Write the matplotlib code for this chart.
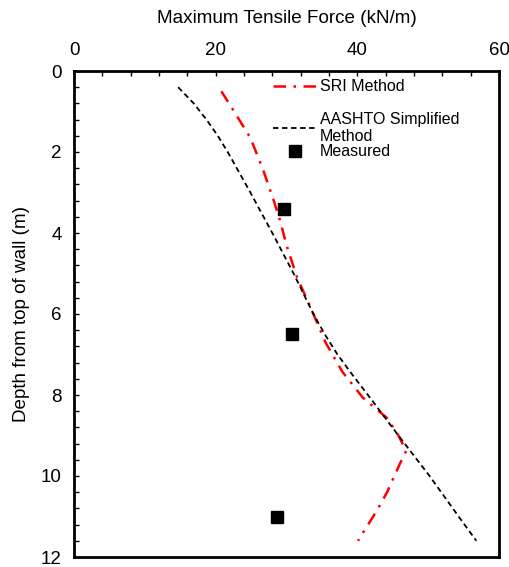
import matplotlib
matplotlib.use("Agg")
import matplotlib.pyplot as plt
from matplotlib.ticker import MultipleLocator

plt.rcParams['font.family'] = ['Liberation Sans', 'DejaVu Sans']

# AASHTO Simplified Method (depth m, force kN/m)
aashto_depth = [0.4, 0.8, 1.2, 1.6, 2.0, 2.5, 3.0, 4.0, 5.0, 6.0, 6.5, 7.0, 7.5, 8.0, 9.0, 10.0, 11.0, 11.6]
aashto_force = [14.7, 16.9, 18.7, 20.3, 21.7, 23.3, 24.9, 28.0, 31.0, 33.8, 35.4, 37.2, 39.3, 41.5, 45.8, 50.2, 54.3, 56.8]

# SRI Method
sri_depth = [0.5, 1.0, 1.65, 2.44, 3.2, 3.7, 4.3, 5.1, 5.8, 6.7, 7.43, 8.07, 8.57, 9.0, 9.38, 9.7, 10.4, 10.84, 11.6]
sri_force = [20.8, 22.6, 24.9, 26.7, 28.2, 29.1, 30.0, 31.5, 33.3, 35.5, 37.9, 40.8, 44.2, 45.8, 46.9, 46.0, 44.2, 42.8, 40.1]

# Measured
meas_depth = [3.4, 6.5, 11.0]
meas_force = [29.7, 30.8, 28.6]

fig = plt.figure(figsize=(5.1, 5.67), dpi=100)
ax = fig.add_axes([74/510, 1-557/567, (499-74)/510, (557-71)/567])

sri, = ax.plot(sri_force, sri_depth, color='red', lw=1.8,
               dashes=(5, 3, 1, 3), label='SRI Method')
aas, = ax.plot(aashto_force, aashto_depth, color='black', lw=1.3,
               dashes=(3, 2), label='AASHTO Simplified\nMethod')
mea, = ax.plot(meas_force, meas_depth, ls='none', marker='s', ms=8,
               color='black', label='Measured')

ax.set_xlim(0, 60)
ax.set_ylim(12, 0)
ax.xaxis.set_major_locator(MultipleLocator(20))
ax.xaxis.set_minor_locator(MultipleLocator(4))
ax.yaxis.set_major_locator(MultipleLocator(2))
ax.yaxis.set_minor_locator(MultipleLocator(0.4))
ax.xaxis.tick_top()
ax.xaxis.set_label_position('top')
ax.tick_params(which='both', direction='in', length=3.5, width=1, labelsize=13.5,
               top=True, bottom=False, left=True, right=False)
ax.tick_params(axis='x', pad=8.5)
ax.tick_params(axis='y', pad=9)
for s in ax.spines.values():
    s.set_linewidth(2)

ax.set_xlabel('Maximum Tensile Force (kN/m)', fontsize=13.6, labelpad=14)
ax.set_ylabel('Depth from top of wall (m)', fontsize=13.6, labelpad=8)

leg1 = ax.legend(handles=[sri, aas], loc='upper left', bbox_to_anchor=(0.468, 0.983),
                 frameon=False, fontsize=11.5, handlelength=2.8, handletextpad=0.15,
                 labelspacing=1.1, borderaxespad=0, borderpad=0)
ax.add_artist(leg1)
leg2 = ax.legend(handles=[mea], loc='upper left', bbox_to_anchor=(0.468, 0.849),
                 frameon=False, fontsize=11.5, handlelength=2.8, handletextpad=0.15,
                 borderaxespad=0, borderpad=0)

fig.savefig('out.png', dpi=100)
